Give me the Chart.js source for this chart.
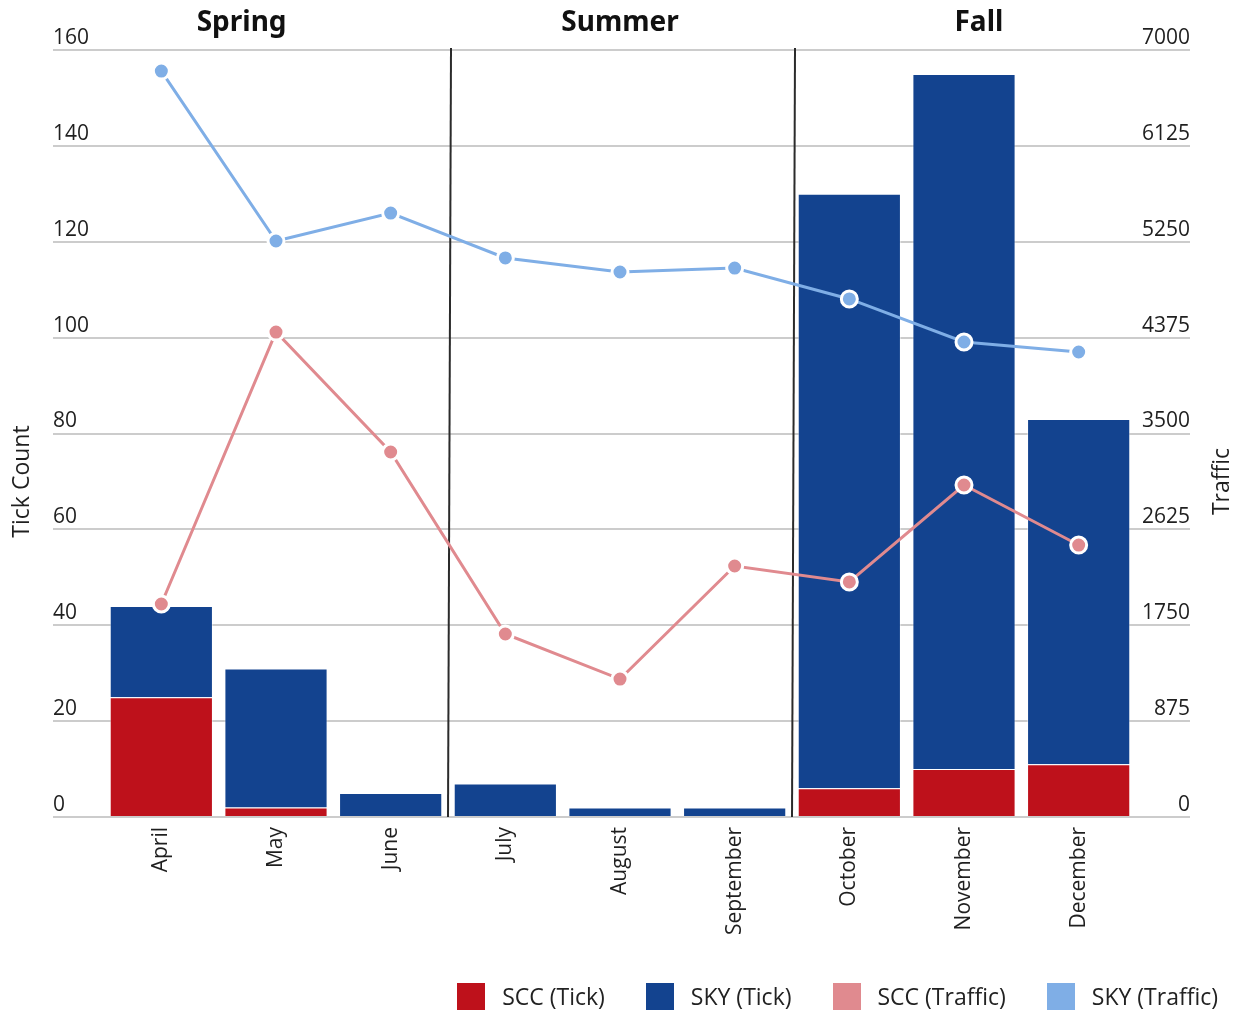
<!DOCTYPE html>
<html>
<head>
<meta charset="utf-8">
<title>Tick Count and Traffic by Month</title>
<script src="https://cdn.jsdelivr.net/npm/chart.js@4.4.1/dist/chart.umd.min.js"></script>
<style>
  html, body { margin: 0; padding: 0; background: #fff; }
  #wrap { position: relative; width: 1242px; height: 1012px; }
  #legend {
    position: absolute; right: 24px; top: 980px;
    display: flex; align-items: center;
    font: 23px "Open Sans", sans-serif; color: #222;
  }
  #legend .item { display: flex; align-items: center; margin-left: 41px; }
  #legend .item:first-child { margin-left: 0; }
  #legend .box { width: 28px; height: 27px; margin-right: 17px; }
</style>
</head>
<body>
<div id="wrap">
  <canvas id="seasonChart" width="1242" height="1012"></canvas>
  <div id="legend"></div>
</div>
<script>
const months = ['April', 'May', 'June', 'July', 'August', 'September', 'October', 'November', 'December'];
const sccTick = [25, 2, 0, 0, 0, 0, 6, 10, 11];
const skyTick = [19, 29, 5, 7, 2, 2, 124, 145, 72];
const sccTraffic = [1944, 4426, 3331, 1670, 1259, 2291, 2145, 3030, 2482];
const skyTraffic = [6808, 5257, 5512, 5102, 4974, 5010, 4728, 4335, 4244];
const seasons = ['Spring', 'Summer', 'Fall'];
const seasonEnds = ['June', 'September'];

const tickFont = { family: 'Open Sans', size: 21 };
const textColor = '#1f1f1f';
const gridColor = '#cccccc';

// season dividers, season headings and the two rotated axis titles
const seasonPlugin = {
  id: 'seasons',
  beforeDatasetsDraw(chart, args, opts) {
    const { ctx, chartArea, scales: { x } } = chart;
    ctx.save();
    ctx.strokeStyle = '#2b2b2b';
    ctx.lineWidth = 2;
    seasonEnds.forEach(m => {
      const px = x.getPixelForValue(months.indexOf(m) + 0.5);
      ctx.beginPath();
      ctx.moveTo(px + 3, chartArea.top - 2);
      ctx.lineTo(px, chartArea.bottom);
      ctx.stroke();
    });
    ctx.restore();
  },
  afterDraw(chart, args, opts) {
    const { ctx, chartArea, scales: { x } } = chart;
    ctx.save();
    ctx.fillStyle = '#111';
    ctx.textAlign = 'center';
    ctx.textBaseline = 'middle';
    ctx.font = 'bold 28px "Noto Sans"';
    seasons.forEach((s, i) => {
      ctx.fillText(s, x.getPixelForValue(opts.headingAt[i]), chartArea.top - 27);
    });

    ctx.font = '23px "Open Sans"';
    ctx.fillStyle = textColor;
    const midY = (chartArea.top + chartArea.bottom) / 2 + 48;
    [['Tick Count', 22], ['Traffic', 1222]].forEach(([t, tx]) => {
      ctx.save();
      ctx.translate(tx, midY);
      ctx.rotate(-Math.PI / 2);
      ctx.fillText(t, 0, 0);
      ctx.restore();
    });
    ctx.restore();
  }
};

const pointStyle = {
  pointRadius: 8,
  pointHoverRadius: 8,
  pointBorderColor: '#ffffff',
  pointBorderWidth: 3,
  borderWidth: 3,
  tension: 0
};

const plainNumber = v => String(v);

const chart = new Chart(document.getElementById('seasonChart'), {
  data: {
    labels: months,
    datasets: [
      {
        type: 'bar', label: 'SCC (Tick)', data: sccTick, yAxisID: 'y', order: 2,
        backgroundColor: '#be111b', borderColor: 'rgba(255,255,255,0.45)', borderWidth: 1
      },
      {
        type: 'bar', label: 'SKY (Tick)', data: skyTick, yAxisID: 'y', order: 2,
        backgroundColor: '#13438f', borderColor: 'rgba(255,255,255,0.45)', borderWidth: 1
      },
      {
        type: 'line', label: 'SCC (Traffic)', data: sccTraffic, yAxisID: 'y1', order: 1,
        borderColor: '#e08a8f', backgroundColor: '#e08a8f', pointBackgroundColor: '#e08a8f',
        ...pointStyle
      },
      {
        type: 'line', label: 'SKY (Traffic)', data: skyTraffic, yAxisID: 'y1', order: 1,
        borderColor: '#7faee6', backgroundColor: '#7faee6', pointBackgroundColor: '#7faee6',
        ...pointStyle
      }
    ]
  },
  options: {
    responsive: false,
    animation: false,
    layout: { padding: { top: 50, left: 53, right: 52, bottom: 0 } },
    datasets: { bar: { categoryPercentage: 1.0, barPercentage: 0.9 } },
    plugins: {
      legend: { display: false },
      tooltip: { enabled: false },
      seasons: { headingAt: [0.7, 4.0, 7.13] }
    },
    scales: {
      x: {
        stacked: true,
        grid: { display: false, drawTicks: false },
        border: { display: false },
        ticks: { font: tickFont, color: textColor, minRotation: 90, maxRotation: 90, padding: 10 },
        afterFit(s) { s.height = 195; }
      },
      y: {
        stacked: true,
        position: 'left',
        min: 0, max: 160,
        grid: { color: gridColor, lineWidth: 2, tickLength: 51 },
        border: { display: false },
        ticks: { stepSize: 20, font: tickFont, color: textColor, crossAlign: 'far', labelOffset: -12, callback: plainNumber },
        afterFit(s) { s.width = 51; }
      },
      y1: {
        position: 'right',
        min: 0, max: 7000,
        grid: { color: gridColor, lineWidth: 2, tickLength: 54, drawOnChartArea: false },
        border: { display: false },
        ticks: { stepSize: 875, font: tickFont, color: textColor, crossAlign: 'far', labelOffset: -12, callback: plainNumber },
        afterFit(s) { s.width = 54; }
      }
    }
  },
  plugins: [seasonPlugin]
});

// legend in the page, one square per series
const legendEl = document.getElementById('legend');
chart.data.datasets.forEach(ds => {
  const item = document.createElement('div');
  item.className = 'item';
  const box = document.createElement('span');
  box.className = 'box';
  box.style.background = ds.type === 'line' ? ds.borderColor : ds.backgroundColor;
  item.appendChild(box);
  item.appendChild(document.createTextNode(ds.label));
  legendEl.appendChild(item);
});
</script>
</body>
</html>
